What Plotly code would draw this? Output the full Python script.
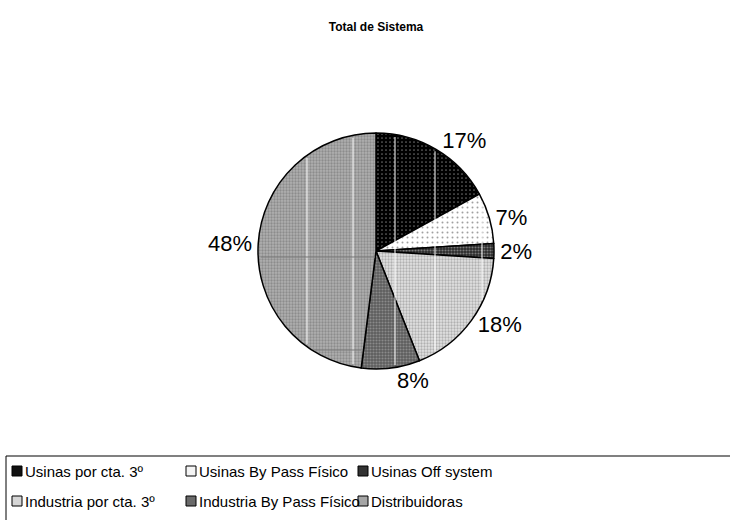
import math
import plotly.graph_objects as go

# Share of total system volume by segment
labels = [
    "Usinas por cta. 3º",
    "Usinas By Pass Físico",
    "Usinas Off system",
    "Industria por cta. 3º",
    "Industria By Pass Físico",
    "Distribuidoras",
]
values = [17, 7, 2, 18, 8, 48]
title_text = "Total de Sistema"

W, H = 730, 520

# Fill styles for each segment (background, dot colour, dot spacing, dot density)
bg = ["#000000", "#ffffff", "#2a2a2a", "#e2e2e2", "#5e5e5e", "#b0b0b0"]
fg = ["#6a6a6a", "#a0a0a0", "#7a7a7a", "#b0b0b0", "#8a8a8a", "#8c8c8c"]
psize = [4, 5, 3, 3, 3, 3]
psolid = [0.15, 0.12, 0.4, 0.45, 0.4, 0.45]
legend_fill = ["#111111", "#f4f4f4", "#333333", "#d6d6d6", "#6a6a6a", "#a6a6a6"]

# Pie placement in pixels
cx, cy, r = 376, 251, 118


def px_x(x):
    return x / W


def px_y(y):
    return 1 - y / H


fig = go.Figure(
    go.Pie(
        labels=labels,
        values=values,
        sort=False,
        direction="clockwise",
        rotation=0,
        texttemplate="%{value}%",
        textposition="outside",
        textfont=dict(family="Liberation Sans, Arial, sans-serif", size=22, color="#000000"),
        marker=dict(
            colors=bg,
            line=dict(color="#000000", width=1.5),
            pattern=dict(
                shape=["."] * len(values),
                fgcolor=fg,
                bgcolor=bg,
                size=psize,
                solidity=psolid,
                fillmode="replace",
            ),
        ),
        domain=dict(
            x=[px_x(cx - r), px_x(cx + r)],
            y=[px_y(cy + r), px_y(cy - r)],
        ),
        showlegend=False,
        hoverinfo="label+percent",
    )
)

shapes = []
annotations = []

# Thin white vertical hairlines running through the pie body
hair_x = [307, 353, 395, 435, 482]
for hx in hair_x:
    half = math.sqrt(max(r * r - (hx - cx) ** 2, 0)) - 2.5
    if half <= 0:
        continue
    shapes.append(dict(type="line", xref="paper", yref="paper", layer="above",
                       x0=px_x(hx), x1=px_x(hx),
                       y0=px_y(cy - half), y1=px_y(cy + half),
                       line=dict(color="#ffffff", width=1)))

# Faint grey horizontal hairlines inside the large segment
for hy, x_end in [(257, cx - 1), (350, 361)]:
    half = math.sqrt(max(r * r - (hy - cy) ** 2, 0)) - 2.5
    shapes.append(dict(type="line", xref="paper", yref="paper", layer="above",
                       x0=px_x(cx - half), x1=px_x(x_end),
                       y0=px_y(hy), y1=px_y(hy),
                       line=dict(color="#7a7a7a", width=1)))

# Legend frame
lg_left, lg_top = 6, 456
shapes.append(dict(type="line", xref="paper", yref="paper",
                   x0=px_x(lg_left), x1=px_x(W + 10), y0=px_y(lg_top), y1=px_y(lg_top),
                   line=dict(color="#808080", width=2)))
shapes.append(dict(type="line", xref="paper", yref="paper",
                   x0=px_x(lg_left), x1=px_x(lg_left), y0=px_y(lg_top), y1=px_y(H + 10),
                   line=dict(color="#000000", width=1)))

# Legend entries: three columns, two rows
col_x = [12, 186, 358]
row_y = [471, 501]
box = 10
legend_font = dict(family="Liberation Sans, Arial, sans-serif", size=15, color="#000000")
for i, name in enumerate(labels):
    cxi = col_x[i % 3]
    ryi = row_y[i // 3]
    shapes.append(dict(type="rect", xref="paper", yref="paper",
                       x0=px_x(cxi), x1=px_x(cxi + box),
                       y0=px_y(ryi + box / 2), y1=px_y(ryi - box / 2),
                       fillcolor=legend_fill[i],
                       line=dict(color="#000000", width=1)))
    annotations.append(dict(text=name, xref="paper", yref="paper",
                            x=px_x(cxi + box + 1), y=px_y(ryi),
                            xanchor="left", yanchor="middle", showarrow=False,
                            font=legend_font))

fig.update_layout(
    width=W,
    height=H,
    margin=dict(l=0, r=0, t=0, b=0),
    paper_bgcolor="#ffffff",
    plot_bgcolor="#ffffff",
    title=dict(
        text="<b>" + title_text + "</b>",
        x=376 / W,
        xanchor="center",
        y=px_y(27),
        yanchor="middle",
        font=dict(family="Liberation Sans, Arial, sans-serif", size=12, color="#000000"),
    ),
    shapes=shapes,
    annotations=annotations,
)

fig.write_html("out.html")
